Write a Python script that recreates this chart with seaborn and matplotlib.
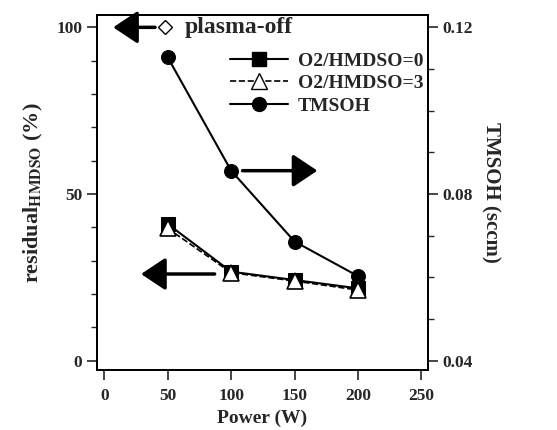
import matplotlib
matplotlib.use('Agg')
import matplotlib.pyplot as plt
import seaborn as sns
import numpy as np
from matplotlib.lines import Line2D

sns.set_style('ticks')
plt.rcParams['font.family'] = ['Liberation Serif', 'DejaVu Serif']
plt.rcParams['font.weight'] = 'bold'
plt.rcParams['mathtext.fontset'] = 'stix'

# data
power = [50, 100, 150, 200]
ratio0 = [41.0, 26.7, 24.2, 21.7]      # O2/HMDSO=0, residual (%)
ratio3 = [39.7, 26.4, 23.9, 21.2]      # O2/HMDSO=3, residual (%)
tmsoh = [0.1128, 0.0856, 0.0686, 0.0603]  # TMSOH (sccm), right axis
plasma_off_x = [48]
plasma_off_y = [100]

fig = plt.figure(figsize=(5.57, 4.3), dpi=100)
ax = fig.add_axes([0.1736, 0.1395, 0.5943, 0.8256])
ax2 = ax.twinx()

sns.lineplot(x=power, y=ratio0, ax=ax, color='black', lw=1.5, marker='s',
             markersize=10, markerfacecolor='black', markeredgecolor='black')
sns.lineplot(x=power, y=ratio3, ax=ax, color='black', lw=1.2, ls='--', marker='^',
             markersize=11, markerfacecolor='white', markeredgecolor='black',
             markeredgewidth=1.2)
ax.plot(plasma_off_x, plasma_off_y, 'D', ms=7, mfc='white', mec='black', mew=1.0,
        clip_on=False)
sns.lineplot(x=power, y=tmsoh, ax=ax2, color='black', lw=1.5, marker='o',
             markersize=10, markerfacecolor='black', markeredgecolor='black')

ax.set_xlim(-6, 255)
ax.set_ylim(-2.8, 103.7)
ax2.set_ylim(0.04 - 2.8 * 0.0008, 0.04 + 103.7 * 0.0008)

ax.set_xticks([0, 50, 100, 150, 200, 250])
ax.set_yticks([0, 50, 100])
ax.set_yticks(np.arange(0, 101, 10), minor=True)
ax2.set_yticks([0.04, 0.08, 0.12])
ax2.set_yticklabels(['0.04', '0.08', '0.12'])
ax2.set_yticks(np.arange(0.04, 0.1201, 0.01), minor=True)

for a in (ax, ax2):
    a.tick_params(which='major', length=7, width=1.2, labelsize=12.5, direction='out')
    a.tick_params(which='minor', length=4, width=1.0, direction='out')
    for s in a.spines.values():
        s.set_linewidth(1.3)
        s.set_color('black')
    for lab in a.get_xticklabels() + a.get_yticklabels():
        lab.set_fontweight('bold')
ax.tick_params(axis='x', pad=6)

ax.set_xlabel('Power (W)', fontsize=14, fontweight='bold', labelpad=4)
ax.set_ylabel(r'residual$_{\mathbf{HMDSO}}$ (%)', fontsize=16, fontweight='bold',
              labelpad=8)
ax2.set_ylabel('TMSOH (sccm)', fontsize=15, fontweight='bold', rotation=270,
               labelpad=20)

arrow = dict(arrowstyle='-|>,head_length=1.5,head_width=1.0', color='black', lw=2.5,
             shrinkA=0, shrinkB=0)
ax.annotate('', xy=(7, 100), xytext=(40, 100), arrowprops=arrow)
ax.annotate('', xy=(168, 57), xytext=(109, 57), arrowprops=arrow)
ax.annotate('', xy=(29, 26), xytext=(87, 26), arrowprops=arrow)

ax.text(63, 100, 'plasma-off', fontsize=17, fontweight='bold', va='center')

handles = [
    Line2D([], [], color='black', lw=1.5, marker='s', ms=10, mfc='black'),
    Line2D([], [], color='black', lw=1.2, ls='--', marker='^', ms=11, mfc='white'),
    Line2D([], [], color='black', lw=1.5, marker='o', ms=10, mfc='black'),
]
leg = ax.legend(handles, ['O2/HMDSO=0', 'O2/HMDSO=3', 'TMSOH'], loc='upper right',
                bbox_to_anchor=(1.04, 0.945), frameon=False, fontsize=14,
                handlelength=3.0, labelspacing=0.25, handletextpad=0.5)
for t in leg.get_texts():
    t.set_fontweight('bold')

fig.savefig('out.png', dpi=100)
